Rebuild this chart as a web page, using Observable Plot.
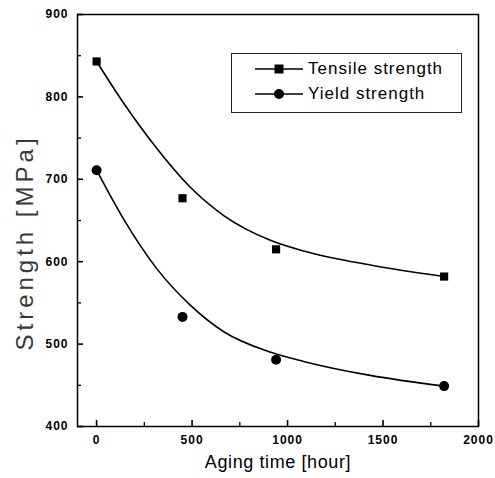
<!DOCTYPE html>
<html><head><meta charset="utf-8">
<script src="https://cdn.jsdelivr.net/npm/d3@7"></script>
<script src="https://cdn.jsdelivr.net/npm/@observablehq/plot@0.6"></script>
<style>
body{margin:0;background:#fff;}
#wrap{position:relative;width:495px;height:478px;background:#fff;}
#legend{position:absolute;left:231px;top:53px;width:229px;height:58px;border:1.3px solid #222;background:#fff;
  font-family:"Liberation Sans",Arial,sans-serif;font-size:17px;letter-spacing:1px;color:#000;}
#legend .row{position:absolute;left:0;height:20px;display:flex;align-items:center;}
#legend svg{display:block;}
</style></head><body><div id="wrap"></div>
<script>
// measured points
const agingHours = [0, 450, 940, 1820];
const tensileMPa = [843, 677, 615, 582];
const yieldMPa = [711, 533, 481, 449];
// fitted curves
const tensileFitHours = [0, 143, 317, 492, 666, 910, 1084, 1433, 1820];
const tensileFitMPa = [843, 792, 737, 690, 656, 626, 613, 596, 582];
const yieldFitHours = [0, 143, 317, 492, 666, 900, 1084, 1433, 1820];
const yieldFitMPa = [711, 651, 591, 547, 515, 491, 479, 462, 449];
// ticks
const xMajor = [0, 500, 1000, 1500, 2000];
const xMinor = [250, 750, 1250, 1750];
const yMajor = [400, 500, 600, 700, 800, 900];
const yMinor = [450, 550, 650, 750, 850];
const seriesNames = ["Tensile strength", "Yield strength"];
const xTitle = "Aging time [hour]";
const yTitle = "Strength [MPa]";

const tensile = agingHours.map((h, i) => ({h, v: tensileMPa[i]}));
const yieldPts = agingHours.map((h, i) => ({h, v: yieldMPa[i]}));
const tensileFit = tensileFitHours.map((h, i) => ({h, v: tensileFitMPa[i]}));
const yieldFit = yieldFitHours.map((h, i) => ({h, v: yieldFitMPa[i]}));

const W = 495, H = 478, ML = 77, MR = 17, MT = 14, MB = 52;
const font = "'Liberation Sans', Arial, sans-serif";
const blank = () => "";

const chart = Plot.plot({
  width: W, height: H,
  marginLeft: ML, marginRight: MR, marginTop: MT, marginBottom: MB,
  style: {background: "#fff", fontFamily: font, color: "#000"},
  x: {domain: [-100, 2000]},
  y: {domain: [400, 900]},
  marks: [
    Plot.frame({stroke: "#000", strokeWidth: 1.5}),
    // inward tick marks (shifted back inside the frame)
    Plot.axisX({ticks: xMajor, tickSize: 6, dy: -6, tickFormat: blank, label: null, stroke: "#000", strokeWidth: 1.6}),
    Plot.axisX({ticks: xMinor, tickSize: 4, dy: -4, tickFormat: blank, label: null, stroke: "#000", strokeWidth: 1.3}),
    Plot.axisY({ticks: yMajor, tickSize: 6, dx: 6, tickFormat: blank, label: null, stroke: "#000", strokeWidth: 1.6}),
    Plot.axisY({ticks: yMinor, tickSize: 4, dx: 4, tickFormat: blank, label: null, stroke: "#000", strokeWidth: 1.3}),
    // tick labels
    Plot.axisX({ticks: xMajor, tickSize: 0, tickPadding: 9, label: null, fontSize: 12, tickFormat: d => String(d)}),
    Plot.axisY({ticks: yMajor, tickSize: 0, tickPadding: 9, label: null, fontSize: 12, tickFormat: d => String(d)}),
    Plot.line(tensileFit, {x: "h", y: "v", curve: "monotone-x", stroke: "#000", strokeWidth: 1.6}),
    Plot.line(yieldFit, {x: "h", y: "v", curve: "monotone-x", stroke: "#000", strokeWidth: 1.6}),
    Plot.dot(tensile, {x: "h", y: "v", symbol: "square", r: 4.6, fill: "#000", stroke: null}),
    Plot.dot(yieldPts, {x: "h", y: "v", symbol: "circle", r: 5, fill: "#000", stroke: null}),
    Plot.text([xTitle], {frameAnchor: "bottom", dy: 41, fontSize: 18, fill: "#000", textAnchor: "middle"}),
    Plot.text([yTitle], {frameAnchor: "left", dx: -52, dy: 22, rotate: -90, fontSize: 24, fill: "#3a3a3a", textAnchor: "middle"})
  ]
});

const svg = d3.select(chart);
svg.selectAll("text").each(function() {
  const t = this.textContent;
  if (t === yTitle) this.setAttribute("letter-spacing", "4");
  else if (t === xTitle) this.setAttribute("letter-spacing", "0.6");
});
svg.selectAll("g[aria-label$='tick label'] text").attr("letter-spacing", "1").attr("font-weight", "bold");

const wrap = document.getElementById("wrap");
wrap.appendChild(chart);

// legend
const legend = document.createElement("div");
legend.id = "legend";
const rowsTop = [5, 30];
seriesNames.forEach((name, i) => {
  const row = document.createElement("div");
  row.className = "row";
  row.style.top = rowsTop[i] + "px";
  const marker = i === 0
    ? '<rect x="42.5" y="5.5" width="9" height="9" fill="#000"/>'
    : '<circle cx="47" cy="10" r="5" fill="#000"/>';
  row.innerHTML = '<svg width="76" height="20">' +
    '<line x1="23" x2="71" y1="10" y2="10" stroke="#000" stroke-width="1.5"/>' +
    marker + '</svg><span>' + name + '</span>';
  legend.appendChild(row);
});
wrap.appendChild(legend);
</script>
</body></html>
